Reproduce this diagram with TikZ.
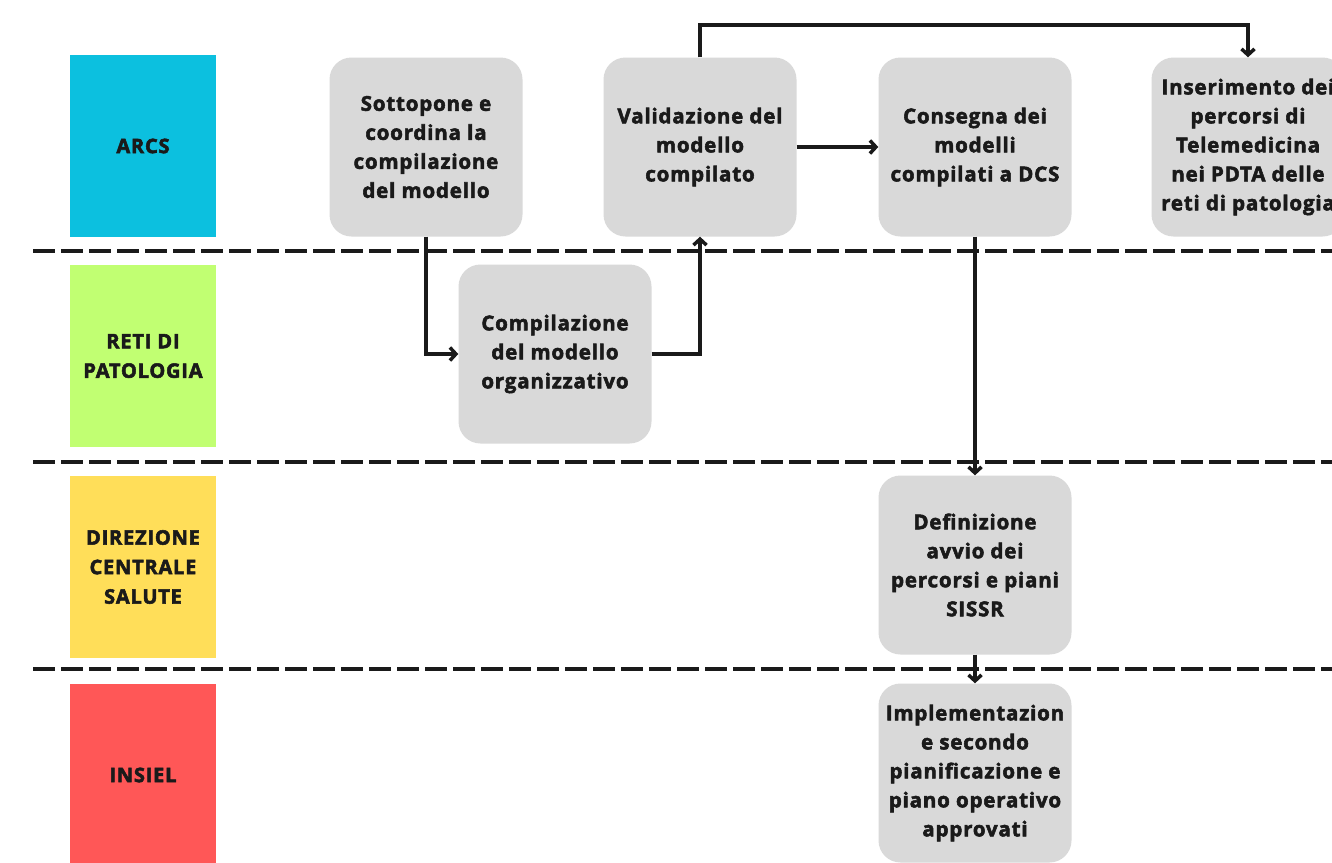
\documentclass[tikz,border=0pt]{standalone}
\usepackage{fontspec}
\setmainfont{Open Sans}[BoldFeatures={FakeBold=2.6,LetterSpace=4}]
\usepackage{xcolor}
\usetikzlibrary{arrows.meta}
\definecolor{arcscol}{HTML}{0CC0DF}
\definecolor{reticol}{HTML}{C1FF72}
\definecolor{dcscol}{HTML}{FFDE59}
\definecolor{insielcol}{HTML}{FF5757}
\definecolor{stepgray}{HTML}{D9D9D9}
\definecolor{inkcol}{HTML}{1A1A1A}

\begin{document}
\begin{tikzpicture}[x=1pt,y=-1pt,
    lane/.style={minimum width=146pt,minimum height=182pt,inner sep=0pt,align=center,
      text=inkcol,font=\fontsize{20}{29.5}\selectfont\bfseries},
    task/.style={fill=stepgray,rounded corners=22pt,minimum width=193pt,minimum height=179pt,
      inner sep=0pt,align=center,text=inkcol,font=\fontsize{20.5}{29}\selectfont\bfseries},
    sep/.style={line width=4pt,dash pattern=on 22pt off 6pt,draw=inkcol},
    flow/.style={line width=3.5pt,draw=inkcol,-{Straight Barb[length=6pt,width=13pt]}}]
  \useasboundingbox (0,0) rectangle (1332,862);
  \fill[white] (0,0) rectangle (1332,862);
  % lanes
  \node[lane,fill=arcscol] (arcs) at (143,146) {ARCS};
  \node[lane,fill=reticol] (reti) at (143,356) {RETI DI\\PATOLOGIA};
  \node[lane,fill=dcscol] (dcs) at (143,567) {DIREZIONE\\CENTRALE\\SALUTE};
  \node[lane,fill=insielcol] (insiel) at (143,775) {INSIEL};
  \draw[sep] (33,251) -- (1332,251);
  \draw[sep] (33,462) -- (1332,462);
  \draw[sep] (33,669) -- (1332,669);
  % tasks
  \node[task] (sott) at (426,147) {Sottopone e\\coordina la\\compilazione\\del modello};
  \node[task] (valid) at (700,147) {Validazione del\\modello\\compilato};
  \node[task] (cons) at (975,147) {Consegna dei\\modelli\\compilati a DCS};
  \node[task] (ins) at (1248,147) {Inserimento dei\\percorsi di\\Telemedicina\\nei PDTA delle\\reti di patologia};
  \node[task] (comp) at (555,354) {Compilazione\\del modello\\organizzativo};
  \node[task] (def) at (975,565) {Definizione\\avvio dei\\percorsi e piani\\SISSR};
  \node[task] (impl) at (975,773) {Implementazion\\e secondo\\pianificazione e\\piano operativo\\approvati};
  \coordinate (top) at (700,25);
  % flows
  \draw[flow] (sott.south) |- (comp.west);
  \draw[flow] (comp.east) -| (valid.south);
  \draw[flow] (valid.east) -- (cons.west);
  \draw[flow] (valid.north) -- (top) -| (ins.north);
  \draw[flow] (cons.south) -- (def.north);
  \draw[flow] (def.south) -- (impl.north);
\end{tikzpicture}
\end{document}
